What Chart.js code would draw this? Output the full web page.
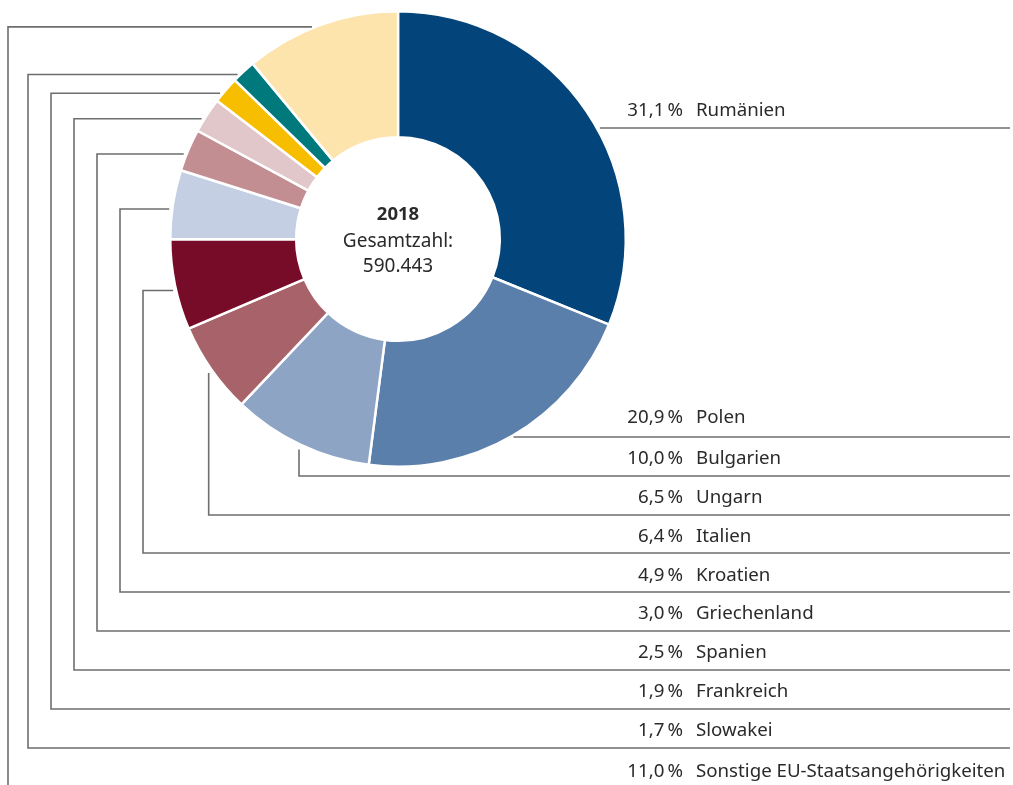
<!DOCTYPE html>
<html>
<head>
<meta charset="utf-8">
<script src="https://cdn.jsdelivr.net/npm/chart.js@4/dist/chart.umd.min.js"></script>
<style>
  html, body { margin: 0; padding: 0; background: #ffffff; }
  #wrap { width: 1013px; height: 785px; position: relative; }
</style>
</head>
<body>
<div id="wrap"><canvas id="c" width="1013" height="785"></canvas></div>
<script>
// ---- data ----
const categories = ["Rumänien", "Polen", "Bulgarien", "Ungarn", "Italien", "Kroatien",
  "Griechenland", "Spanien", "Frankreich", "Slowakei", "Sonstige EU-Staatsangehörigkeiten"];
const shares = [31.1, 20.9, 10.0, 6.5, 6.4, 4.9, 3.0, 2.5, 1.9, 1.7, 11.0];
const centerYear = "2018";
const centerLabel = "Gesamtzahl:";
const centerTotal = "590.443";

// ---- styling / layout ----
const colors = ["#03457a", "#5b7fab", "#8ea4c5", "#a8636a", "#770c29", "#c4cfe3",
  "#c38e92", "#e1c6ca", "#f7be00", "#00797c", "#fde3ac"];
// leader-line row positions (y of the rule under each label), null = runs off bottom
const rowLineY = [128, 437, 476, 515, 553, 592, 631, 670, 709, 748, null];
const rowTextY = [111, 418, 459, 498, 537, 576, 614, 653, 692, 731, 772];
// leader type: 'h' horizontal from ring, 'v' vertical from anchor, number = elbow x
const leaderType = ['h', 'h', 'v', 'v', 143, 120, 97, 74, 51, 28, 8];
const pctRightX = 683, nameLeftX = 696, lineRightX = 1010;
const FONT = '"Noto Sans", "Open Sans", sans-serif';

const fmtPct = v => v.toFixed(1).replace('.', ',') + '\u2009%';

const leaderPlugin = {
  id: 'leaders',
  afterDraw(chart) {
    const ctx = chart.ctx;
    const arcs = chart.getDatasetMeta(0).data;
    ctx.save();
    ctx.strokeStyle = '#6e6e6e';
    ctx.lineWidth = 1.6;
    arcs.forEach((arc, i) => {
      const cx = arc.x, cy = arc.y, r = arc.outerRadius;
      const mid = (arc.startAngle + arc.endAngle) / 2;
      const gap = 3;
      const ax = cx + Math.cos(mid) * (r + gap);
      const ay = cy + Math.sin(mid) * (r + gap);
      const ly = rowLineY[i];
      const t = leaderType[i];
      ctx.beginPath();
      if (t === 'h') {
        const dy = ly - cy;
        const sx = cx + Math.sqrt(Math.max(r * r - dy * dy, 0)) + gap;
        ctx.moveTo(sx, ly);
        ctx.lineTo(lineRightX, ly);
      } else if (t === 'v') {
        ctx.moveTo(ax, ay + 2);
        ctx.lineTo(ax, ly);
        ctx.lineTo(lineRightX, ly);
      } else {
        const hy = ay + 5;
        const dy = hy - cy;
        const ex = cx - Math.sqrt(Math.max(r * r - dy * dy, 0)) - gap;
        ctx.moveTo(ex, hy);
        ctx.lineTo(t, hy);
        if (ly === null) {
          ctx.lineTo(t, chart.height + 5);
        } else {
          ctx.lineTo(t, ly);
          ctx.lineTo(lineRightX, ly);
        }
      }
      ctx.stroke();

      // labels
      ctx.fillStyle = '#2a2a2a';
      ctx.font = '18.7px ' + FONT;
      ctx.textBaseline = 'middle';
      ctx.textAlign = 'right';
      ctx.fillText(fmtPct(shares[i]), pctRightX, rowTextY[i]);
      ctx.textAlign = 'left';
      ctx.fillText(categories[i], nameLeftX, rowTextY[i]);
    });

    // center text
    const a0 = arcs[0];
    ctx.textAlign = 'center';
    ctx.textBaseline = 'middle';
    ctx.fillStyle = '#2a2a2a';
    ctx.font = 'bold 18.5px ' + FONT;
    ctx.fillText(centerYear, a0.x, a0.y - 24);
    ctx.font = '19px ' + FONT;
    ctx.fillText(centerLabel, a0.x, a0.y + 3);
    ctx.fillText(centerTotal, a0.x, a0.y + 28);
    ctx.restore();
  }
};

new Chart(document.getElementById('c'), {
  type: 'doughnut',
  data: {
    labels: categories,
    datasets: [{
      data: shares,
      backgroundColor: colors,
      borderColor: '#ffffff',
      borderWidth: 2.5,
      hoverOffset: 0
    }]
  },
  options: {
    responsive: false,
    animation: false,
    cutout: '44.7%',
    layout: { padding: { left: 169, right: 386, top: 10, bottom: 317 } },
    plugins: {
      legend: { display: false },
      tooltip: { enabled: false }
    }
  },
  plugins: [leaderPlugin]
});
</script>
</body>
</html>
